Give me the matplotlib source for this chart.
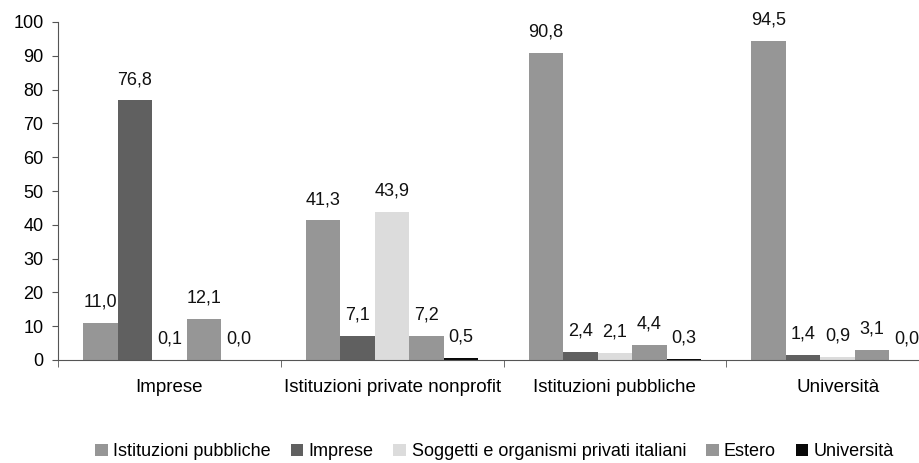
import matplotlib.pyplot as plt
import numpy as np

categories = ["Imprese", "Istituzioni private nonprofit", "Istituzioni pubbliche", "Università"]
series_names = ["Istituzioni pubbliche", "Imprese", "Soggetti e organismi privati italiani", "Estero", "Università"]
values = [
    [11.0, 41.3, 90.8, 94.5],   # Istituzioni pubbliche
    [76.8, 7.1, 2.4, 1.4],      # Imprese
    [0.1, 43.9, 2.1, 0.9],      # Soggetti e organismi privati italiani
    [12.1, 7.2, 4.4, 3.1],      # Estero
    [0.0, 0.5, 0.3, 0.0],       # Università
]
colors = ["#969696", "#606060", "#dcdcdc", "#969696", "#080808"]

plt.rcParams['font.family'] = ['Liberation Sans', 'DejaVu Sans']

fig = plt.figure(figsize=(9.19, 4.63), dpi=100)
ax = fig.add_axes([58 / 919, 103 / 463, 891 / 919, 338 / 463])

x = np.arange(len(categories))
bw = 0.155
for i, (name, vals) in enumerate(zip(series_names, values)):
    pos = x + (i - 2) * bw
    ax.bar(pos, vals, width=bw, color=colors[i], label=name)
    for px, v in zip(pos, vals):
        ax.annotate(f"{v:.1f}".replace(".", ","), (px, v), xytext=(0, 15),
                    textcoords="offset points", ha="center", va="center",
                    fontsize=13, color="#111111")

ax.set_xlim(-0.5, len(categories) - 0.5)
ax.set_ylim(0, 100)
ax.set_yticks(range(0, 101, 10))
ax.set_xticks(x)
ax.set_xticklabels(categories)
ax.set_xticks(np.arange(len(categories) + 1) - 0.5, minor=True)
ax.tick_params(axis="x", which="major", length=0, pad=14, labelsize=13.5)
ax.tick_params(axis="x", which="minor", length=5, direction="out", color="#555555")
ax.tick_params(axis="y", length=4.5, direction="out", pad=6, labelsize=13, color="#555555")

for s in ("top", "right"):
    ax.spines[s].set_visible(False)
for s in ("left", "bottom"):
    ax.spines[s].set_color("#555555")

ax.legend(loc="center", bbox_to_anchor=(0.49, -0.272), ncol=5, frameon=False,
          fontsize=13, handlelength=0.7, handleheight=0.7, handletextpad=0.3,
          columnspacing=1.1)

fig.savefig("out.png", dpi=100)
